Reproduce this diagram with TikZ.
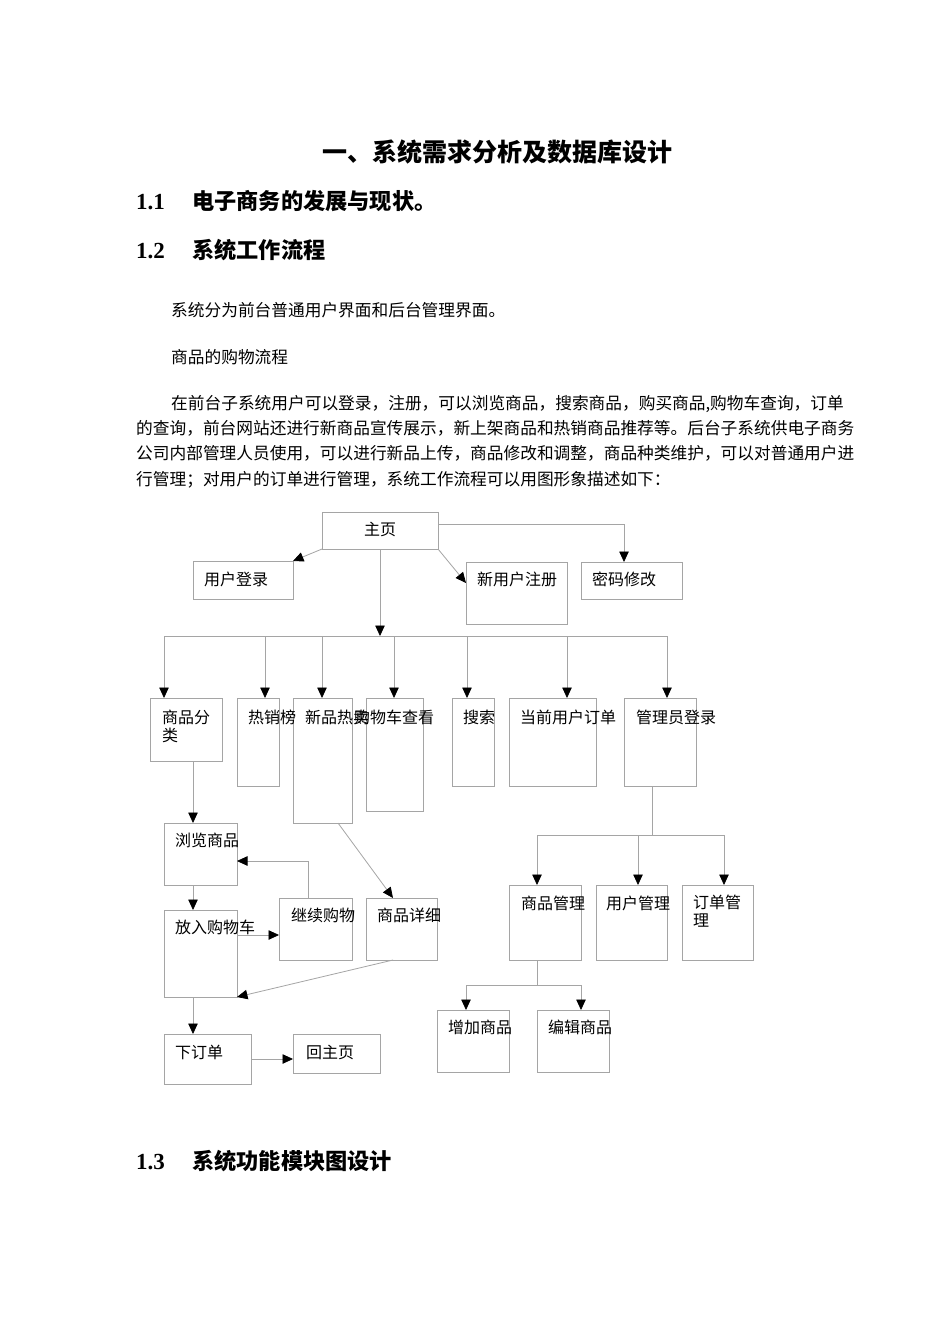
\documentclass[tikz,border=0pt]{standalone}
\usepackage{fontspec}
\usetikzlibrary{arrows.meta,calc}
\newfontfamily\cjk{Noto Sans CJK SC}
\newfontfamily\numfont{Liberation Serif}
\definecolor{lg}{RGB}{165,165,165}
\tikzset{
  box/.style={draw=lg, line width=0.8pt, anchor=north west, inner sep=0pt, outer sep=0pt},
  ln/.style={draw=lg, line width=0.8pt},
  arr/.style={ln, -{Triangle[length=10.5pt,width=9.5pt,color=black]}},
  lbl/.style={anchor=base west, inner sep=0pt, font=\cjk\fontsize{16}{18}\selectfont},
  bodytxt/.style={anchor=base west, inner sep=0pt, font=\cjk\fontsize{16.7}{20}\selectfont},
  headtxt/.style={anchor=base west, inner sep=0pt, font=\cjk\bfseries\fontsize{22.2}{26}\selectfont},
  numtxt/.style={anchor=base west, inner sep=0pt, font=\numfont\bfseries\fontsize{23}{26}\selectfont},
  titletxt/.style={anchor=base, inner sep=0pt, font=\cjk\bfseries\fontsize{25}{30}\selectfont},
}
\begin{document}
\begin{tikzpicture}[x=1pt,y=-1pt]
\useasboundingbox[fill=white] (0,0) rectangle (950,1344);

% ---------- text ----------
\node[titletxt] (title) at (497.5,161.5) {一、系统需求分析及数据库设计};
\node[numtxt] (h11n) at (136,209.4) {1.1};
\node[headtxt] (h11) at (192,209.4) {电子商务的发展与现状。};
\node[numtxt] (h12n) at (136,258.4) {1.2};
\node[headtxt] (h12) at (192,258.4) {系统工作流程};
\node[bodytxt] (p1) at (171,316.3) {系统分为前台普通用户界面和后台管理界面。};
\node[bodytxt] (p2) at (171,363.3) {商品的购物流程};
\node[bodytxt] (p3a) at (171,409.3) {在前台子系统用户可以登录，注册，可以浏览商品，搜索商品，购买商品,购物车查询，订单};
\node[bodytxt] (p3b) at (136,434.3) {的查询，前台网站还进行新商品宣传展示，新上架商品和热销商品推荐等。后台子系统供电子商务};
\node[bodytxt] (p3c) at (136,459.3) {公司内部管理人员使用，可以进行新品上传，商品修改和调整，商品种类维护，可以对普通用户进};
\node[bodytxt] (p3d) at (136,485.3) {行管理；对用户的订单进行管理，系统工作流程可以用图形象描述如下：};
\node[numtxt] (h13n) at (136,1169.4) {1.3};
\node[headtxt] (h13) at (192,1169.4) {系统功能模块图设计};

% ---------- boxes ----------
\node[box, minimum width=116, minimum height=37] (home) at (322,512) {};
\node[box, minimum width=100, minimum height=38] (login) at (193,561) {};
\node[box, minimum width=101, minimum height=62] (reg) at (466,562) {};
\node[box, minimum width=101, minimum height=37] (pwd) at (581,562) {};

\node[box, minimum width=72, minimum height=63] (cat) at (150,698) {};
\node[box, minimum width=42, minimum height=88] (hot) at (237,698) {};
\node[box, minimum width=59, minimum height=125] (newh) at (293,698) {};
\node[box, minimum width=57, minimum height=113] (cart) at (366,698) {};
\node[box, minimum width=42, minimum height=88] (srch) at (452,698) {};
\node[box, minimum width=87, minimum height=88] (cord) at (509,698) {};
\node[box, minimum width=72, minimum height=88] (admin) at (624,698) {};

\node[box, minimum width=73, minimum height=62] (browse) at (164,823) {};
\node[box, minimum width=73, minimum height=87] (put) at (164,910) {};
\node[box, minimum width=73, minimum height=62] (cont) at (279,898) {};
\node[box, minimum width=71, minimum height=62] (detail) at (366,898) {};
\node[box, minimum width=87, minimum height=50] (order) at (164,1034) {};
\node[box, minimum width=87, minimum height=39] (back) at (293,1034) {};

\node[box, minimum width=72, minimum height=75] (gm) at (509,885) {};
\node[box, minimum width=71, minimum height=75] (um) at (596,885) {};
\node[box, minimum width=71, minimum height=75] (om) at (682,885) {};
\node[box, minimum width=72, minimum height=62] (add) at (437,1010) {};
\node[box, minimum width=72, minimum height=62] (edit) at (537,1010) {};

% ---------- labels ----------
\node[lbl] (homeT) at (364,535) {主页};
\node[lbl] (loginT) at (204,585) {用户登录};
\node[lbl] (regT) at (477,585) {新用户注册};
\node[lbl] (pwdT) at (592,585) {密码修改};
\node[lbl] (catT1) at (162,723) {商品分};
\node[lbl] (catT2) at (162,741) {类};
\node[lbl] (hotT) at (248,723) {热销榜};
\node[lbl] (newhT) at (305,723) {新品热卖};
\node[lbl] (cartT) at (354,723) {购物车查看};
\node[lbl] (srchT) at (463,723) {搜索};
\node[lbl] (cordT) at (520,723) {当前用户订单};
\node[lbl] (adminT) at (636,723) {管理员登录};
\node[lbl] (browseT) at (175,846) {浏览商品};
\node[lbl] (putT) at (175,933) {放入购物车};
\node[lbl] (contT) at (291,921) {继续购物};
\node[lbl] (detailT) at (377,921) {商品详细};
\node[lbl] (orderT) at (175,1058) {下订单};
\node[lbl] (backT) at (306,1058) {回主页};
\node[lbl] (gmT) at (521,909) {商品管理};
\node[lbl] (umT) at (606,909) {用户管理};
\node[lbl] (omT1) at (693,908) {订单管};
\node[lbl] (omT2) at (693,926) {理};
\node[lbl] (addT) at (448,1033) {增加商品};
\node[lbl] (editT) at (548,1033) {编辑商品};

% ---------- connectors: top ----------
\draw[arr] (home.south west) -- (login.north east);
\draw[arr] (home.south east) -- ($(reg.north west)+(0,21)$);
\draw[arr] ($(home.north east)+(0,12)$) -| ($(pwd.north west)+(43,0)$);
\coordinate (bus) at (380,636);
\draw[arr] (home.south) -- (bus);

\coordinate (b1) at (164,636);
\coordinate (b2) at (265,636);
\coordinate (b3) at (322,636);
\coordinate (b4) at (394,636);
\coordinate (b5) at (467,636);
\coordinate (b6) at (567,636);
\coordinate (b7) at (667,636);
\draw[ln] (b1) -- (b7);
\draw[arr] (b1) -- (b1 |- cat.north);
\draw[arr] (b2) -- (b2 |- hot.north);
\draw[arr] (b3) -- (b3 |- newh.north);
\draw[arr] (b4) -- (b4 |- cart.north);
\draw[arr] (b5) -- (b5 |- srch.north);
\draw[arr] (b6) -- (b6 |- cord.north);
\draw[arr] (b7) -- (b7 |- admin.north);

% ---------- connectors: shopping flow ----------
\coordinate (v1) at (193,0);
\draw[arr] (cat.south -| v1) -- (browse.north -| v1);
\draw[arr] (browse.south -| v1) -- (put.north -| v1);
\draw[arr] (put.south -| v1) -- (order.north -| v1);
\draw[arr] ($(cont.north west)+(29,0)$) |- ($(browse.north east)+(0,38)$);
\draw[arr] ($(put.north east)+(0,25)$) -- ($(cont.north west)+(0,37)$);
\draw[arr] ($(newh.south west)+(45,0)$) -- ($(detail.north west)+(27,0)$);
\draw[arr] ($(detail.south west)+(27,0)$) -- (put.south east);
\draw[arr] ($(order.north east)+(0,25)$) -- ($(back.north west)+(0,25)$);

% ---------- connectors: admin ----------
\coordinate (aj) at (652,835);
\coordinate (aL) at (537,835);
\coordinate (aM) at (638,835);
\coordinate (aR) at (724,835);
\draw[ln] (admin.south -| aj) -- (aj);
\draw[ln] (aL) -- (aR);
\draw[arr] (aL) -- (aL |- gm.north);
\draw[arr] (aM) -- (aM |- um.north);
\draw[arr] (aR) -- (aR |- om.north);
\coordinate (gj) at (537,985);
\coordinate (gL) at (466,985);
\coordinate (gR) at (581,985);
\draw[ln] (gm.south -| gj) -- (gj);
\draw[ln] (gL) -- (gR);
\draw[arr] (gL) -- (gL |- add.north);
\draw[arr] (gR) -- (gR |- edit.north);
\end{tikzpicture}
\end{document}
